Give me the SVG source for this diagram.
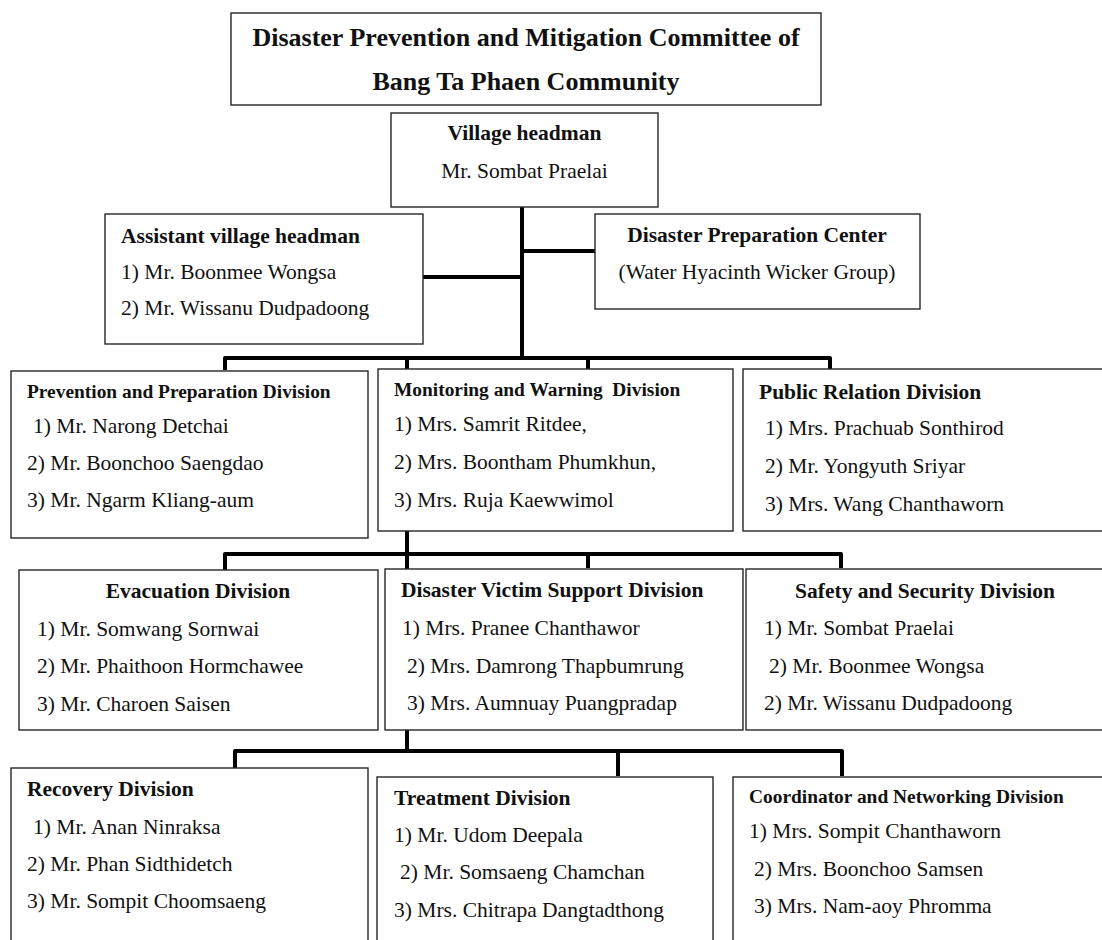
<svg xmlns="http://www.w3.org/2000/svg" width="1102" height="940" viewBox="0 0 1102 940">
<style>
.box{fill:#fff;stroke:#262626;stroke-width:1.4}
text{font-family:"Liberation Serif","Times New Roman",serif;fill:#111}
.h{font-weight:bold;font-size:21.5px}
.hs{font-weight:bold;font-size:19.4px}
.t{font-size:21.5px}
.title{font-weight:bold;font-size:26px}
.c{text-anchor:middle}
.conn{fill:none;stroke:#000;stroke-width:4;stroke-linejoin:round}
</style>
<rect width="1102" height="940" fill="#fff"/>

<g id="title">
<rect class="box" x="231" y="13" width="590" height="92"/>
<text class="title c" x="526" y="46">Disaster Prevention and Mitigation Committee of</text>
<text class="title c" x="526" y="90">Bang Ta Phaen Community</text>
</g>

<g id="connectors">
<path class="conn" d="M522,207 V358"/>
<path class="conn" d="M423,277 H522"/>
<path class="conn" d="M522,251 H595"/>
<path class="conn" d="M225,370 V358 H830 V369"/>
<path class="conn" d="M407,358 V369 M588,358 V369"/>
<path class="conn" d="M407,531 V569"/>
<path class="conn" d="M225,570 V554 H841 V568"/>
<path class="conn" d="M588,554 V568"/>
<path class="conn" d="M407,730 V751"/>
<path class="conn" d="M235,768 V751 H842 V776"/>
<path class="conn" d="M618,751 V776"/>
</g>

<g id="village-headman">
<rect class="box" x="391" y="113" width="267" height="94"/>
<text class="h c" x="524.5" y="140">Village headman</text>
<text class="t c" x="524.5" y="178">Mr. Sombat Praelai</text>
</g>

<g id="assistant-headman">
<rect class="box" x="105" y="214" width="318" height="130"/>
<text class="h" x="121" y="243">Assistant village headman</text>
<text class="t" x="121" y="279">1) Mr. Boonmee Wongsa</text>
<text class="t" x="121" y="315">2) Mr. Wissanu Dudpadoong</text>
</g>

<g id="preparation-center">
<rect class="box" x="595" y="214" width="325" height="95"/>
<text class="h c" x="757" y="242">Disaster Preparation Center</text>
<text class="t c" x="757" y="279">(Water Hyacinth Wicker Group)</text>
</g>

<g id="prevention-division">
<rect class="box" x="11" y="371" width="357" height="167"/>
<text class="hs" x="27" y="398">Prevention and Preparation Division</text>
<text class="t" x="33" y="433">1) Mr. Narong Detchai</text>
<text class="t" x="27" y="470">2) Mr. Boonchoo Saengdao</text>
<text class="t" x="27" y="507">3) Mr. Ngarm Kliang-aum</text>
</g>

<g id="monitoring-division">
<rect class="box" x="378" y="369" width="355" height="162"/>
<text class="hs" x="394" y="396">Monitoring and Warning&#160; Division</text>
<text class="t" x="394" y="431">1) Mrs. Samrit Ritdee,</text>
<text class="t" x="394" y="469">2) Mrs. Boontham Phumkhun,</text>
<text class="t" x="394" y="507">3) Mrs. Ruja Kaewwimol</text>
</g>

<g id="public-relation-division">
<rect class="box" x="743" y="369" width="370" height="162"/>
<text class="h" x="759" y="399">Public Relation Division</text>
<text class="t" x="765" y="435">1) Mrs. Prachuab Sonthirod</text>
<text class="t" x="765" y="473">2) Mr. Yongyuth Sriyar</text>
<text class="t" x="765" y="511">3) Mrs. Wang Chanthaworn</text>
</g>

<g id="evacuation-division">
<rect class="box" x="19" y="570" width="359" height="160"/>
<text class="h c" x="198" y="598">Evacuation Division</text>
<text class="t" x="37" y="636">1) Mr. Somwang Sornwai</text>
<text class="t" x="37" y="673">2) Mr. Phaithoon Hormchawee</text>
<text class="t" x="37" y="711">3) Mr. Charoen Saisen</text>
</g>

<g id="victim-support-division">
<rect class="box" x="385" y="569" width="358" height="161"/>
<text class="h" x="401" y="597">Disaster Victim Support Division</text>
<text class="t" x="402" y="635">1) Mrs. Pranee Chanthawor</text>
<text class="t" x="407" y="673">2) Mrs. Damrong Thapbumrung</text>
<text class="t" x="407" y="710">3) Mrs. Aumnuay Puangpradap</text>
</g>

<g id="safety-division">
<rect class="box" x="746" y="569" width="370" height="161"/>
<text class="h c" x="925" y="598">Safety and Security Division</text>
<text class="t" x="764" y="635">1) Mr. Sombat Praelai</text>
<text class="t" x="769" y="673">2) Mr. Boonmee Wongsa</text>
<text class="t" x="764" y="710">2) Mr. Wissanu Dudpadoong</text>
</g>

<g id="recovery-division">
<rect class="box" x="11" y="768" width="357" height="190"/>
<text class="h" x="27" y="796">Recovery Division</text>
<text class="t" x="33" y="834">1) Mr. Anan Ninraksa</text>
<text class="t" x="27" y="871">2) Mr. Phan Sidthidetch</text>
<text class="t" x="27" y="908">3) Mr. Sompit Choomsaeng</text>
</g>

<g id="treatment-division">
<rect class="box" x="377" y="777" width="336" height="190"/>
<text class="h" x="394" y="805">Treatment Division</text>
<text class="t" x="394" y="842">1) Mr. Udom Deepala</text>
<text class="t" x="400" y="879">2) Mr. Somsaeng Chamchan</text>
<text class="t" x="394" y="917">3) Mrs. Chitrapa Dangtadthong</text>
</g>

<g id="coordinator-division">
<rect class="box" x="733" y="777" width="380" height="190"/>
<text class="hs" x="749" y="803">Coordinator and Networking Division</text>
<text class="t" x="749" y="838">1) Mrs. Sompit Chanthaworn</text>
<text class="t" x="754" y="876">2) Mrs. Boonchoo Samsen</text>
<text class="t" x="754" y="913">3) Mrs. Nam-aoy Phromma</text>
</g>
</svg>
